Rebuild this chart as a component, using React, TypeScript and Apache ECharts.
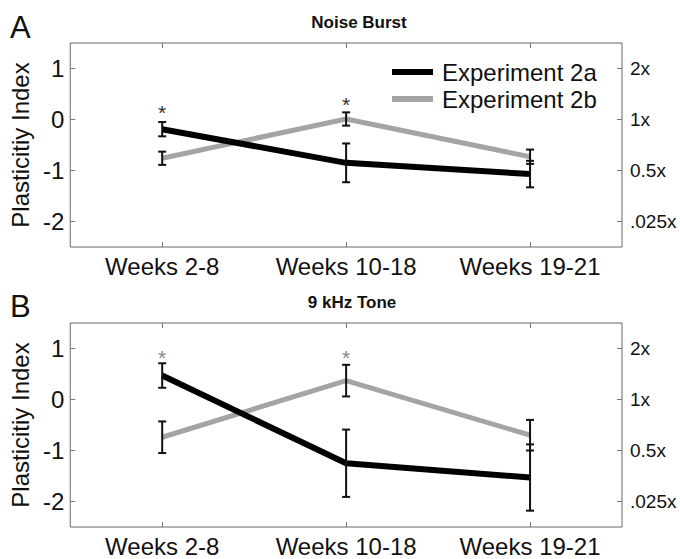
import React, { useEffect, useRef } from 'react';
import * as echarts from 'echarts';

const categories = ['Weeks 2-8', 'Weeks 10-18', 'Weeks 19-21'];
const yTicks = [-2, -1, 0, 1];
const rightTickLabels = ['.025x', '0.5x', '1x', '2x'];
const seriesNames = ['Experiment 2a', 'Experiment 2b'];

const noiseExp2a = [-0.19, -0.85, -1.07];
const noiseExp2aErr = [0.14, 0.38, 0.26];
const noiseExp2b = [-0.76, 0.01, -0.73];
const noiseExp2bErr = [0.13, 0.13, 0.14];
const noiseStars = [[0, 0.13], [1, 0.3]];

const toneExp2a = [0.47, -1.25, -1.53];
const toneExp2aErr = [0.24, 0.66, 0.65];
const toneExp2b = [-0.74, 0.37, -0.7];
const toneExp2bErr = [0.31, 0.31, 0.3];
const toneStars = [[0, 0.82], [1, 0.82]];

const FONT = "'Liberation Sans', Arial, Helvetica, sans-serif";
const BLACK = '#000000';
const GRAY = '#a4a4a4';

function errData(mean: number[], err: number[]) {
  return mean.map((m, i) => [i, m - err[i], m + err[i]]);
}

function errorSeries(data: number[][], p: number) {
  return {
    type: 'custom',
    xAxisIndex: 2 * p,
    yAxisIndex: 2 * p,
    z: 5,
    encode: { x: 0, y: [1, 2] },
    data,
    renderItem: (params: any, api: any) => {
      const x = api.value(0);
      const lo = api.coord([x, api.value(1)]);
      const hi = api.coord([x, api.value(2)]);
      const w = 4;
      const st = { stroke: '#111', lineWidth: 2 };
      return {
        type: 'group',
        children: [
          { type: 'line', shape: { x1: lo[0], y1: lo[1], x2: hi[0], y2: hi[1] }, style: st },
          { type: 'line', shape: { x1: lo[0] - w, y1: lo[1], x2: lo[0] + w, y2: lo[1] }, style: st },
          { type: 'line', shape: { x1: hi[0] - w, y1: hi[1], x2: hi[0] + w, y2: hi[1] }, style: st },
        ],
      };
    },
  };
}

function starSeries(data: number[][], p: number, color: string) {
  return {
    type: 'custom',
    xAxisIndex: 2 * p,
    yAxisIndex: 2 * p,
    z: 6,
    encode: { x: 0, y: 1 },
    data,
    renderItem: (params: any, api: any) => {
      const pt = api.coord([api.value(0), api.value(1)]);
      return {
        type: 'text',
        x: pt[0],
        y: pt[1],
        style: {
          text: '*',
          fill: color,
          fontSize: 21,
          fontFamily: FONT,
          align: 'center',
          verticalAlign: 'middle',
        },
      };
    },
  };
}

function lineSeries(name: string, data: number[], p: number, color: string, width: number, z: number) {
  return {
    type: 'line',
    name,
    xAxisIndex: 2 * p,
    yAxisIndex: 2 * p,
    data,
    color,
    symbol: 'none',
    showSymbol: false,
    z,
    lineStyle: { color, width },
  };
}

export default function App() {
  const ref = useRef<HTMLDivElement>(null);
  useEffect(() => {
    if (!ref.current) return;
    const chart = echarts.init(ref.current, undefined, { renderer: 'svg' });
    const tops = [43, 323];
    const grids = tops.map((t) => ({
      left: 62,
      right: 58,
      top: t,
      height: 204,
      show: true,
      borderColor: '#666',
      borderWidth: 1,
      backgroundColor: 'transparent',
    }));
    const xAxes: any[] = [];
    const yAxes: any[] = [];
    [0, 1].forEach((p) => {
      xAxes.push({
        type: 'category',
        gridIndex: p,
        data: categories,
        position: 'bottom',
        axisLine: { show: false, onZero: false },
        axisTick: { show: true, inside: true, alignWithLabel: true, length: 5, lineStyle: { color: '#777' } },
        axisLabel: { fontSize: 24, color: '#111', fontFamily: FONT, margin: 7 },
        splitLine: { show: false },
      });
      xAxes.push({
        type: 'category',
        gridIndex: p,
        data: categories,
        position: 'top',
        axisLine: { show: false, onZero: false },
        axisTick: { show: true, inside: true, alignWithLabel: true, length: 5, lineStyle: { color: '#777' } },
        axisLabel: { show: false },
        splitLine: { show: false },
      });
      yAxes.push({
        type: 'value',
        gridIndex: p,
        position: 'left',
        min: -2.5,
        max: 1.5,
        name: 'Plasticitiy Index',
        nameLocation: 'middle',
        nameGap: 28,
        nameTextStyle: { fontSize: 24, color: '#111', fontFamily: FONT },
        axisLine: { show: false, onZero: false },
        axisTick: { show: true, inside: true, length: 5, customValues: yTicks, lineStyle: { color: '#777' } },
        axisLabel: { customValues: yTicks, fontSize: 24, color: '#111', fontFamily: FONT, margin: 6 },
        splitLine: { show: false },
      });
      yAxes.push({
        type: 'value',
        gridIndex: p,
        position: 'right',
        min: -2.5,
        max: 1.5,
        axisLine: { show: false, onZero: false },
        axisTick: { show: true, inside: true, length: 5, customValues: yTicks, lineStyle: { color: '#777' } },
        axisLabel: {
          customValues: yTicks,
          fontSize: 19,
          color: '#111',
          fontFamily: FONT,
          margin: 8,
          formatter: (v: number) => rightTickLabels[yTicks.indexOf(Math.round(v))] ?? '',
        },
        splitLine: { show: false },
      });
    });

    const option: any = {
      animation: false,
      backgroundColor: '#ffffff',
      grid: grids,
      xAxis: xAxes,
      yAxis: yAxes,
      legend: {
        data: seriesNames,
        orient: 'vertical',
        left: 387,
        top: 55,
        icon: 'rect',
        itemWidth: 41,
        itemHeight: 6,
        itemGap: 3,
        selectedMode: false,
        textStyle: { fontSize: 24, color: '#111', fontFamily: FONT, lineHeight: 23, padding: [0, 0, 0, 4] },
      },
      graphic: [
        { type: 'text', left: 10, top: 12, style: { text: 'A', fontSize: 31, fill: '#111', fontFamily: FONT } },
        { type: 'text', left: 10, top: 291, style: { text: 'B', fontSize: 31, fill: '#111', fontFamily: FONT } },
        { type: 'text', x: 359, y: 22, style: { text: 'Noise Burst', fontSize: 17, fontWeight: 'bold', fill: '#111', fontFamily: FONT, align: 'center', verticalAlign: 'middle' } },
        { type: 'text', x: 352, y: 302, style: { text: '9 kHz Tone', fontSize: 17, fontWeight: 'bold', fill: '#111', fontFamily: FONT, align: 'center', verticalAlign: 'middle' } },
      ],
      series: [
        lineSeries(seriesNames[1], noiseExp2b, 0, GRAY, 5, 2),
        lineSeries(seriesNames[0], noiseExp2a, 0, BLACK, 6, 3),
        errorSeries(errData(noiseExp2a, noiseExp2aErr), 0),
        errorSeries(errData(noiseExp2b, noiseExp2bErr), 0),
        starSeries(noiseStars, 0, '#333'),
        lineSeries(seriesNames[1], toneExp2b, 1, GRAY, 5, 2),
        lineSeries(seriesNames[0], toneExp2a, 1, BLACK, 6, 3),
        errorSeries(errData(toneExp2a, toneExp2aErr), 1),
        errorSeries(errData(toneExp2b, toneExp2bErr), 1),
        starSeries(toneStars, 1, '#888'),
      ],
    };
    chart.setOption(option);
    return () => chart.dispose();
  }, []);
  return (
    <div
      ref={ref}
      style={{ position: 'fixed', left: 0, top: 0, width: 680, height: 559, background: '#fff' }}
    />
  );
}
